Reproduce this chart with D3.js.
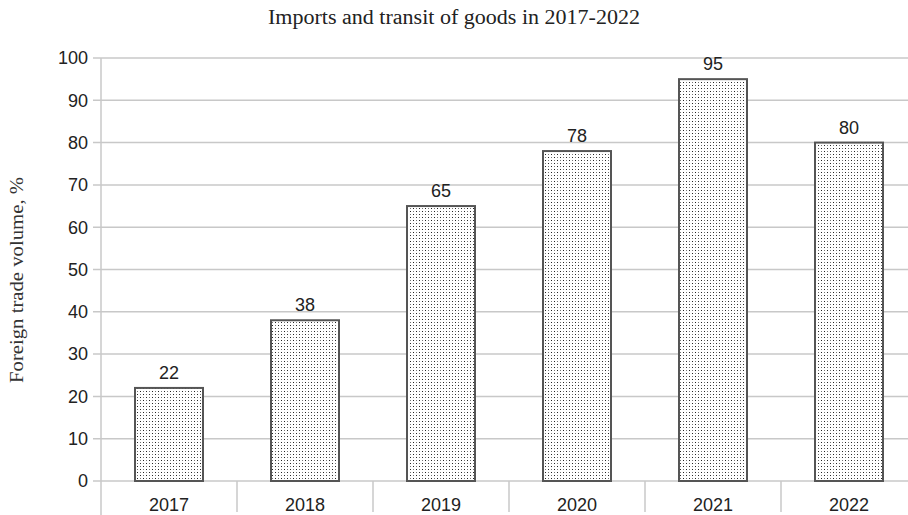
<!DOCTYPE html>
<html><head><meta charset="utf-8">
<script src="https://cdn.jsdelivr.net/npm/d3@7"></script>
<style>body{margin:0;background:#fff}svg{display:block}</style>
</head><body>
<svg id="c" width="908" height="515"></svg>
<script>
const title = "Imports and transit of goods in 2017-2022";
const yLabel = "Foreign trade volume, %";
const categories = ["2017","2018","2019","2020","2021","2022"];
const values = [22, 38, 65, 78, 95, 80];
const yTicks = [0,10,20,30,40,50,60,70,80,90,100];

const svg = d3.select("#c");
const plotL = 101, plotR = 917, plotT = 58, plotB = 481;
const x = d3.scaleBand().domain(categories).range([plotL, plotR]).paddingInner(0.5).paddingOuter(0.25);
const y = d3.scaleLinear().domain([0, 100]).range([plotB, plotT]);

const defs = svg.append("defs");
const pat = defs.append("pattern").attr("id","dots").attr("patternUnits","userSpaceOnUse")
  .attr("width",6).attr("height",6).attr("x",1).attr("y",0);
pat.append("rect").attr("width",6).attr("height",6).attr("fill","#fff");
pat.append("rect").attr("x",1).attr("y",1).attr("width",1).attr("height",1).attr("fill","#222");
pat.append("rect").attr("x",4).attr("y",4).attr("width",1).attr("height",1).attr("fill","#222");
pat.append("rect").attr("x",1).attr("y",4).attr("width",1).attr("height",1).attr("fill","#777");
pat.append("rect").attr("x",4).attr("y",1).attr("width",1).attr("height",1).attr("fill","#777");

const sans = "Liberation Sans, Arial, sans-serif";
const serif = "Liberation Serif, Times New Roman, serif";

// gridlines
svg.append("g").selectAll("line").data(yTicks).join("line")
  .attr("x1", plotL - 8).attr("x2", 908)
  .attr("y1", d => y(d)).attr("y2", d => y(d))
  .attr("stroke", "#c8c8c8").attr("stroke-width", 1.5);

// y axis line
svg.append("line").attr("x1", plotL).attr("x2", plotL).attr("y1", plotT).attr("y2", 515)
  .attr("stroke", "#c8c8c8").attr("stroke-width", 1.5);

// category separators
const step = x.step();
svg.append("g").selectAll("line").data(d3.range(1, categories.length)).join("line")
  .attr("x1", i => plotL + i*step).attr("x2", i => plotL + i*step)
  .attr("y1", plotB).attr("y2", 512)
  .attr("stroke", "#c8c8c8").attr("stroke-width", 1.5);

// y tick labels
svg.append("g").selectAll("text").data(yTicks).join("text")
  .attr("x", 88).attr("y", d => y(d)).attr("dy", "0.35em")
  .attr("text-anchor", "end")
  .attr("font-family", sans).attr("font-size", 18).attr("fill", "#222")
  .text(d => d);

// bars
svg.append("g").selectAll("rect").data(values).join("rect")
  .attr("x", (d,i) => x(categories[i])).attr("width", x.bandwidth())
  .attr("y", d => y(d)).attr("height", d => y(0) - y(d))
  .attr("fill", "url(#dots)").attr("stroke", "#555").attr("stroke-width", 2);

// value labels
svg.append("g").selectAll("text").data(values).join("text")
  .attr("x", (d,i) => x(categories[i]) + x.bandwidth()/2).attr("y", d => y(d) - 9)
  .attr("text-anchor", "middle")
  .attr("font-family", sans).attr("font-size", 18).attr("fill", "#222")
  .text(d => d);

// category labels
svg.append("g").selectAll("text").data(categories).join("text")
  .attr("x", d => x(d) + x.bandwidth()/2).attr("y", 511)
  .attr("text-anchor", "middle")
  .attr("font-family", sans).attr("font-size", 18).attr("fill", "#222")
  .text(d => d);

// title
svg.append("text").attr("x", 454).attr("y", 24).attr("text-anchor", "middle")
  .attr("font-family", serif).attr("font-size", 20).attr("fill", "#222")
  .attr("textLength", 372).attr("lengthAdjust", "spacingAndGlyphs")
  .text(title);

// y label
svg.append("text").attr("transform", "translate(23,280) rotate(-90)")
  .attr("text-anchor", "middle")
  .attr("font-family", serif).attr("font-size", 19).attr("fill", "#333")
  .attr("textLength", 206).attr("lengthAdjust", "spacingAndGlyphs")
  .text(yLabel);
</script>
</body></html>
